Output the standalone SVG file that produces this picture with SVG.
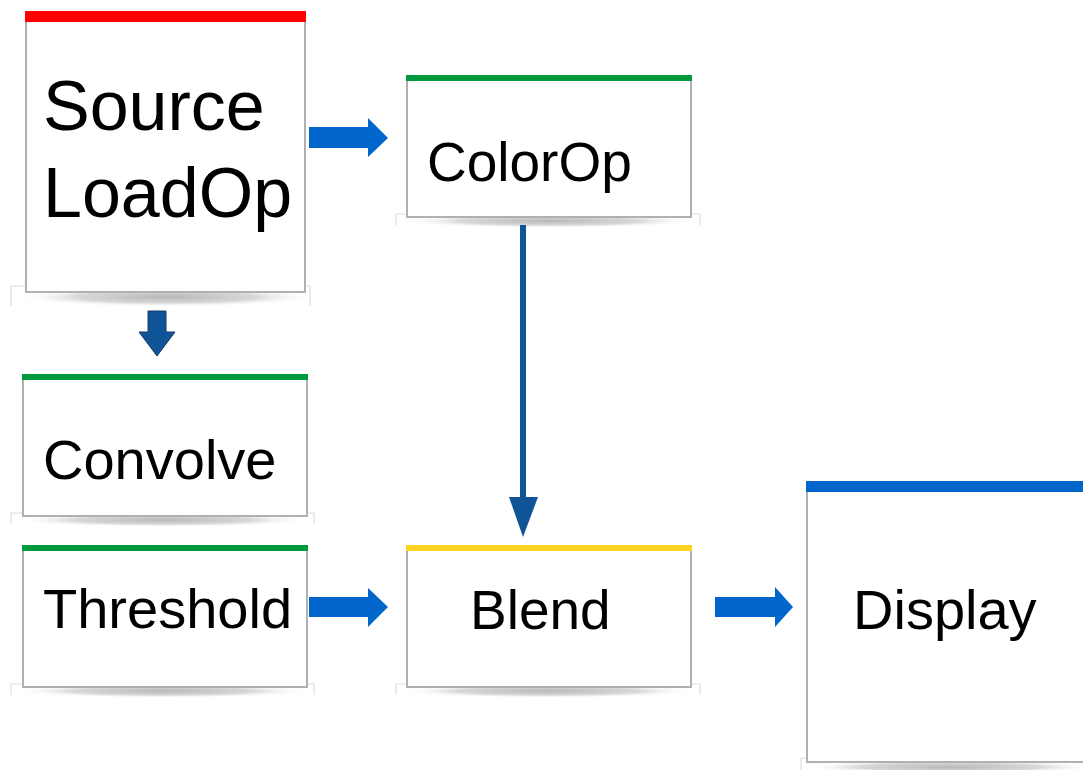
<svg xmlns="http://www.w3.org/2000/svg" width="1083" height="770" viewBox="0 0 1083 770">
<defs>
<radialGradient id="sh" cx="0.5" cy="0.5" r="0.5">
<stop offset="0" stop-color="#b8b8b8"/>
<stop offset="0.6" stop-color="#d8d8d8"/>
<stop offset="1" stop-color="#ffffff" stop-opacity="0"/>
</radialGradient>
</defs>
<style>
.box{fill:#ffffff;stroke:#b0b0b0;stroke-width:2}
.base{fill:none;stroke:#dedede;stroke-width:1.2}
.shadow{fill:url(#sh)}
.lbl{font-family:"Liberation Sans",Arial,sans-serif;fill:#000000}
.arr{fill:#0066cc}
.darr{fill:#0f5496}
</style>
<rect width="1083" height="770" fill="#ffffff"/>

<g id="node-source">
<path class="base" d="M11,306 V286 H310 V306"/>
<ellipse class="shadow" cx="166" cy="297" rx="150" ry="10"/>
<rect class="box" x="26" y="16" width="279" height="276"/>
<rect x="25" y="11" width="281" height="11" fill="#ff0000"/>
<text class="lbl" x="43" y="130" font-size="70">Source</text>
<text class="lbl" x="43" y="217" font-size="70">LoadOp</text>
</g>

<g id="node-colorop">
<path class="base" d="M396,225 V214 H700 V225"/>
<ellipse class="shadow" cx="549" cy="221" rx="150" ry="7"/>
<rect class="box" x="407" y="78" width="284" height="139"/>
<rect x="406" y="75" width="286" height="6" fill="#009a3e"/>
<text class="lbl" x="427" y="181" font-size="55">ColorOp</text>
</g>

<g id="node-convolve">
<path class="base" d="M11,524 V513 H314 V524"/>
<ellipse class="shadow" cx="163" cy="520" rx="150" ry="7"/>
<rect class="box" x="23" y="377" width="284" height="139"/>
<rect x="22" y="374" width="286" height="6" fill="#009a3e"/>
<text class="lbl" x="43" y="479" font-size="56">Convolve</text>
</g>

<g id="node-threshold">
<path class="base" d="M11,695 V684 H314 V695"/>
<ellipse class="shadow" cx="163" cy="691" rx="150" ry="7"/>
<rect class="box" x="23" y="548" width="284" height="139"/>
<rect x="22" y="545" width="286" height="6" fill="#009a3e"/>
<text class="lbl" x="43" y="628" font-size="56">Threshold</text>
</g>

<g id="node-blend">
<path class="base" d="M396,695 V684 H700 V695"/>
<ellipse class="shadow" cx="548" cy="691" rx="150" ry="7"/>
<rect class="box" x="407" y="548" width="284" height="139"/>
<rect x="406" y="545" width="286" height="6" fill="#ffd320"/>
<text class="lbl" x="470" y="629" font-size="55">Blend</text>
</g>

<g id="node-display">
<path class="base" d="M801,770 V758 H1100"/>
<ellipse class="shadow" cx="950" cy="767" rx="150" ry="7"/>
<rect class="box" x="807" y="486" width="290" height="276"/>
<rect x="806" y="481" width="290" height="11" fill="#0066cc"/>
<text class="lbl" x="853" y="629" font-size="56">Display</text>
</g>

<g id="connectors">
<polygon class="arr" points="309,127 368,127 368,118 388,138 368,157 368,148 309,148"/>
<polygon class="darr" stroke="#173a6a" stroke-width="1" points="148,311 166,311 166,332 175,332 157,356 139,332 148,332"/>
<rect class="darr" x="520" y="225" width="6" height="274"/>
<polygon class="darr" points="509,497 538,497 523,537"/>
<polygon class="arr" points="309,597 368,597 368,588 388,607 368,627 368,617 309,617"/>
<polygon class="arr" points="715,597 775,597 775,587 793,607 775,627 775,617 715,617"/>
</g>
</svg>
